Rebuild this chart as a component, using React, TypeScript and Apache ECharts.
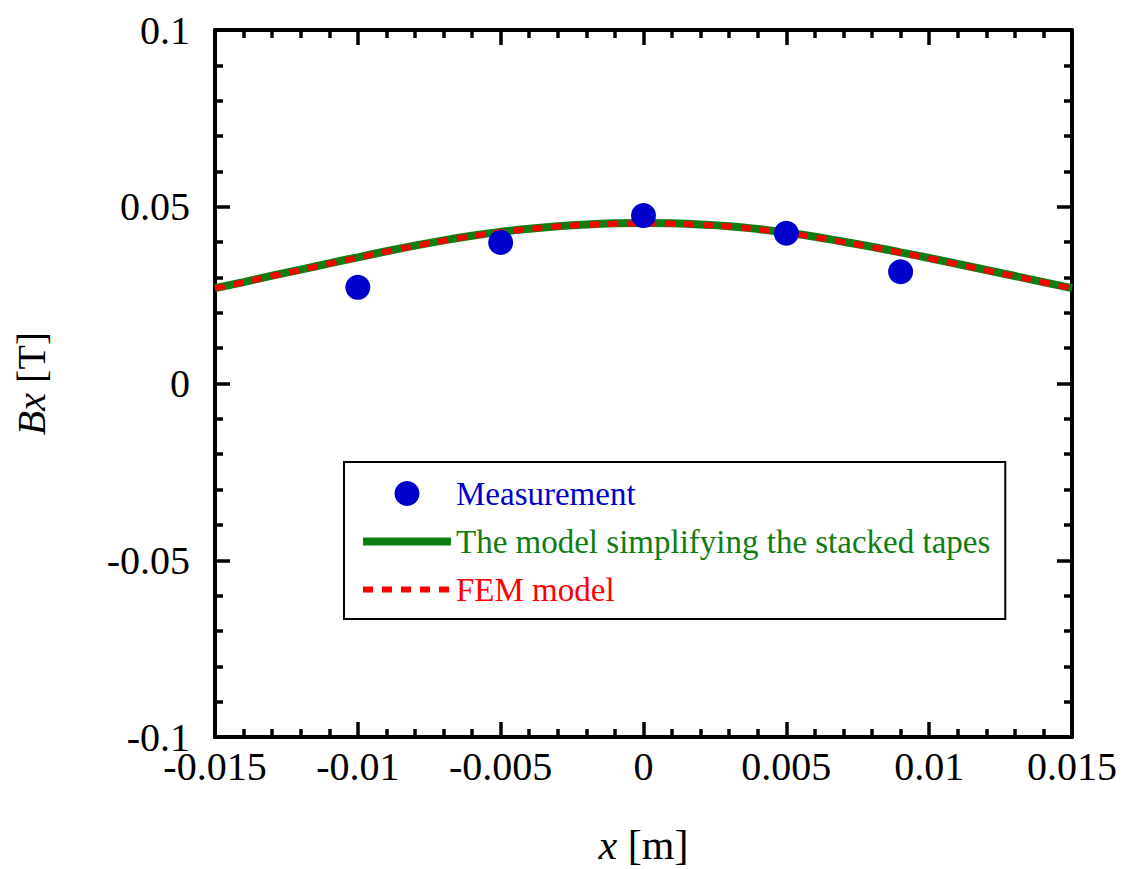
import React, { useEffect, useRef } from "react";
import * as echarts from "echarts";

// Measurement points
const measX = [-0.01, -0.005, 0, 0.005, 0.009];
const measY = [0.0272, 0.0399, 0.0475, 0.0425, 0.0316];

// Curve positions (m)
const curveX = [
  -0.015, -0.014, -0.013, -0.012, -0.011, -0.01, -0.009, -0.008, -0.007, -0.006,
  -0.005, -0.004, -0.003, -0.002, -0.001, 0, 0.001, 0.002, 0.003, 0.004,
  0.005, 0.006, 0.007, 0.008, 0.009, 0.01, 0.011, 0.012, 0.013, 0.014, 0.015,
];
// The model simplifying the stacked tapes
const modelY = [
  0.0270, 0.0287, 0.0305, 0.0322, 0.0340, 0.0357, 0.0374, 0.0390, 0.0405, 0.0418,
  0.0429, 0.0438, 0.0445, 0.0450, 0.0453, 0.0454, 0.0453, 0.0450, 0.0445, 0.0437,
  0.0427, 0.0415, 0.0401, 0.0387, 0.0371, 0.0355, 0.0338, 0.0321, 0.0304, 0.0287, 0.0270,
];
// FEM model
const femY = [
  0.0269, 0.0286, 0.0304, 0.0321, 0.0339, 0.0356, 0.0373, 0.0389, 0.0404, 0.0417,
  0.0428, 0.0437, 0.0444, 0.0449, 0.0452, 0.0453, 0.0452, 0.0449, 0.0444, 0.0436,
  0.0426, 0.0414, 0.0400, 0.0386, 0.0370, 0.0354, 0.0337, 0.0320, 0.0303, 0.0286, 0.0269,
];

const seriesNames = [
  "Measurement",
  "The model simplifying the stacked tapes",
  "FEM model",
];

const FONT = "'Liberation Serif', 'Times New Roman', serif";
const BLUE = "#0000cc";
const GREEN = "#0f7d12";
const RED = "#ff0000";

const fmt = (v: number) => String(+v.toFixed(3));

export default function App() {
  const ref = useRef<HTMLDivElement>(null);
  useEffect(() => {
    if (!ref.current) return;
    const chart = echarts.init(ref.current, null, { renderer: "svg" });
    const axisCommon = {
      axisLine: { show: true, onZero: false, lineStyle: { color: "#000", width: 4 } },
      axisTick: { show: true, inside: true, length: 15, lineStyle: { color: "#000", width: 3.5 } },
      minorTick: { show: true, splitNumber: 5, length: 8, lineStyle: { color: "#000", width: 3.5 } },
      splitLine: { show: false },
      minorSplitLine: { show: false },
    };
    const xBase = { type: "value", min: -0.015, max: 0.015, interval: 0.005, ...axisCommon };
    const yBase = { type: "value", min: -0.1, max: 0.1, interval: 0.05, ...axisCommon };
    const hidden = { color: "rgba(0,0,0,0)", borderWidth: 0, opacity: 0 };
    chart.setOption({
      animation: false,
      backgroundColor: "#fff",
      grid: {
        left: 215,
        right: 55,
        top: 30,
        bottom: 132,
        containLabel: false,
        outerBoundsMode: "none",
      },
      xAxis: [
        {
          ...xBase,
          position: "bottom",
          axisLabel: {
            show: true,
            margin: 12,
            fontSize: 40,
            lineHeight: 34,
            fontFamily: FONT,
            color: "#000",
            formatter: fmt,
          },
          name: "{i|x} [m]",
          nameLocation: "middle",
          nameGap: 87,
          nameTextStyle: {
            fontSize: 42,
            fontFamily: FONT,
            color: "#000",
            rich: { i: { fontSize: 42, fontFamily: FONT, fontStyle: "italic", color: "#000" } },
          },
        },
        { ...xBase, position: "top", axisLabel: { show: false } },
      ],
      yAxis: [
        {
          ...yBase,
          position: "left",
          axisLabel: {
            show: true,
            margin: 25,
            fontSize: 40,
            lineHeight: 34,
            fontFamily: FONT,
            color: "#000",
            formatter: fmt,
          },
          name: "{i|Bx} [T]",
          nameLocation: "middle",
          nameGap: 164,
          nameTextStyle: {
            fontSize: 40,
            fontFamily: FONT,
            color: "#000",
            rich: { i: { fontSize: 40, fontFamily: FONT, fontStyle: "italic", color: "#000" } },
          },
        },
        { ...yBase, position: "right", axisLabel: { show: false } },
      ],
      legend: {
        orient: "vertical",
        left: 344,
        top: 462,
        padding: [15, 15, 13, 15],
        borderColor: "#000",
        borderWidth: 2,
        backgroundColor: "#fff",
        itemWidth: 88,
        itemHeight: 25,
        itemGap: 15,
        selectedMode: false,
        textStyle: { fontSize: 33, fontFamily: FONT, lineHeight: 32 },
        lineStyle: { width: "inherit" },
        data: [
          { name: seriesNames[0], textStyle: { color: BLUE } },
          { name: seriesNames[1], textStyle: { color: GREEN }, itemStyle: hidden },
          { name: seriesNames[2], textStyle: { color: RED }, itemStyle: hidden },
        ],
      },
      series: [
        {
          name: seriesNames[1],
          type: "line",
          data: curveX.map((x, i) => [x, modelY[i]]),
          symbol: "none",
          smooth: true,
          lineStyle: { color: GREEN, width: 8 },
          itemStyle: { color: GREEN },
          z: 2,
        },
        {
          name: seriesNames[2],
          type: "line",
          data: curveX.map((x, i) => [x, femY[i]]),
          symbol: "none",
          smooth: true,
          lineStyle: { color: RED, width: 6, type: [10, 9] },
          itemStyle: { color: RED },
          z: 3,
        },
        {
          name: seriesNames[0],
          type: "scatter",
          data: measX.map((x, i) => [x, measY[i]]),
          symbol: "circle",
          symbolSize: 25,
          itemStyle: { color: BLUE, opacity: 1 },
          z: 4,
        },
      ],
    });
    return () => chart.dispose();
  }, []);
  return (
    <div
      ref={ref}
      style={{ position: "absolute", left: 0, top: 0, width: 1127, height: 869 }}
    />
  );
}
